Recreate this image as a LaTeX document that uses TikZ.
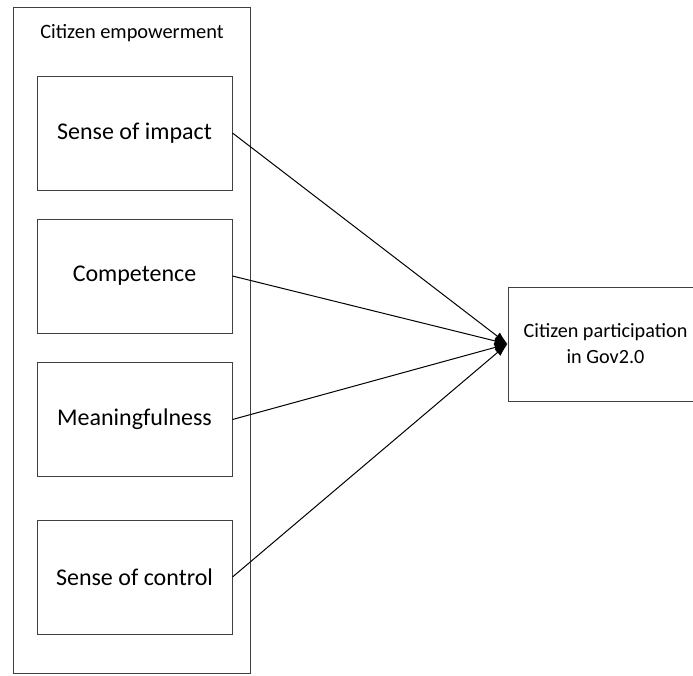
\documentclass[tikz,border=0pt]{standalone}
\usepackage{fontspec}
\setmainfont{Carlito}
\usetikzlibrary{arrows.meta}
\begin{document}
\begin{tikzpicture}[x=1pt,y=-1pt,
  boxstyle/.style={draw=black!75,line width=1pt,rectangle,inner sep=0pt,
    minimum width=195pt,minimum height=114pt,font=\fontsize{24}{29}\selectfont},
  outerbox/.style={draw=black!75,line width=1pt,rectangle,inner sep=0pt,
    minimum width=236.5pt,minimum height=666pt},
  lbl/.style={font=\fontsize{20.4}{26}\selectfont,inner sep=0pt},
  conn/.style={line width=1pt,-{Latex[length=13pt,width=9pt]}}]
\useasboundingbox (0,0) rectangle (693,675);
\begin{scope}
\clip (0,0) rectangle (693,675);
\node[outerbox] (outer) at (131.75,340) {};
\node[lbl] (title) at (132,33) {Citizen empowerment};
\node[boxstyle] (b1) at (134.5,133) {Sense of impact};
\node[boxstyle] (b2) at (134.5,276) {Competence};
\node[boxstyle] (b3) at (134.5,419.5) {Meaningfulness};
\node[boxstyle] (b4) at (134.5,577) {Sense of control};
\node[boxstyle,font=\fontsize{20.2}{26}\selectfont,align=center] (cp) at (605.5,344) {Citizen participation\\in Gov2.0};
\draw[conn] (b1.east) -- (cp.west);
\draw[conn] (b2.east) -- (cp.west);
\draw[conn] (b3.east) -- (cp.west);
\draw[conn] (b4.east) -- (cp.west);
\end{scope}
\end{tikzpicture}
\end{document}
